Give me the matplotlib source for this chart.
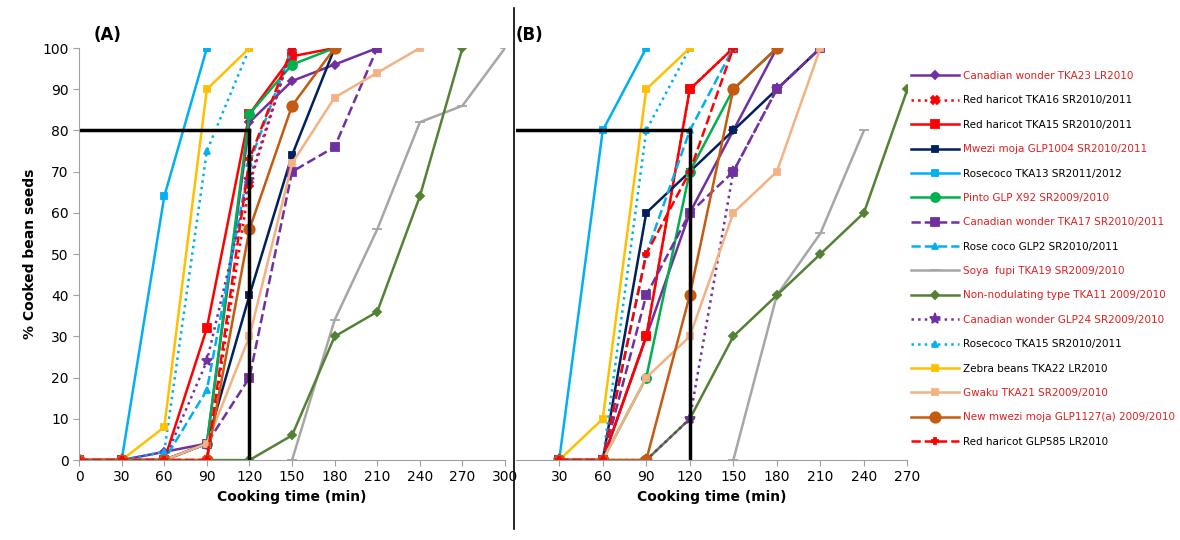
import matplotlib.pyplot as plt
from matplotlib.lines import Line2D

# legend names (in legend order)
names = ["Canadian wonder TKA23 LR2010", "Red haricot TKA16 SR2010/2011", "Red haricot TKA15 SR2010/2011",
         "Mwezi moja GLP1004 SR2010/2011", "Rosecoco TKA13 SR2011/2012", "Pinto GLP X92 SR2009/2010",
         "Canadian wonder TKA17 SR2010/2011", "Rose coco GLP2 SR2010/2011", "Soya  fupi TKA19 SR2009/2010",
         "Non-nodulating type TKA11 2009/2010", "Canadian wonder GLP24 SR2009/2010", "Rosecoco TKA15 SR2010/2011",
         "Zebra beans TKA22 LR2010", "Gwaku TKA21 SR2009/2010", "New mwezi moja GLP1127(a) 2009/2010",
         "Red haricot GLP585 LR2010"]
text_red = [True, False, False, True, False, True, True, False, True, True, True, False, False, True, True, False]

# panel A: cooking time and % cooked
tA = [0, 30, 60, 90, 120, 150, 180, 210, 240, 270, 300]
a_tka23 = [0, 0, 2, 4, 82, 92, 96, 100]
a_tka16 = [0, 0, 0, 0, 67, 100]
a_tka15 = [0, 0, 0, 32, 84, 98, 100]
a_glp1004 = [0, 0, 0, 4, 40, 74, 100]
a_tka13 = [0, 0, 64, 100]
a_pinto = [0, 0, 0, 4, 84, 96, 100]
a_tka17 = [0, 0, 0, 4, 20, 70, 76, 100]
a_glp2 = [0, 0, 0, 17, 72, 100]
a_soya = [0, 34, 56, 82, 86, 100]          # from 150
a_nonnod = [0, 0, 0, 0, 0, 6, 30, 36, 64, 100]
a_glp24 = [0, 0, 0, 24, 68, 100]
a_rc15 = [0, 0, 2, 75, 100]
a_zebra = [0, 0, 8, 90, 100]
a_gwaku = [0, 0, 0, 4, 30, 72, 88, 94, 100]
a_newmm = [0, 0, 0, 0, 56, 86, 100]
a_glp585 = [0, 0, 0, 0, 73, 100]

# panel B
tB = [30, 60, 90, 120, 150, 180, 210, 240, 270]
b_tka23 = [0, 0, 30, 60, 80, 100]
b_tka16 = [0, 0, 30, 90, 100]
b_tka15 = [0, 0, 30, 90, 100]
b_glp1004 = [0, 0, 60, 70, 80, 90, 100]
b_tka13 = [0, 80, 100]
b_pinto = [0, 0, 20, 70, 90, 100]
b_tka17 = [0, 0, 40, 60, 70, 90, 100]
b_glp2 = [0, 0, 50, 80, 100]
b_soya = [0, 40, 55, 80]                   # from 150
b_nonnod = [0, 0, 0, 10, 30, 40, 50, 60, 90]
b_glp24 = [0, 0, 0, 10, 70, 90, 100]
b_rc15 = [0, 0, 80, 100]
b_zebra = [0, 10, 90, 100]
b_gwaku = [0, 0, 20, 30, 60, 70, 100]
b_newmm = [0, 0, 0, 40, 90, 100]
b_glp585 = [0, 0, 50, 70, 100]

colors = ["#7030A0", "#FF0000", "#FF0000", "#002060", "#00B0F0", "#00B050", "#7030A0", "#00B0F0",
          "#A6A6A6", "#548235", "#7030A0", "#00B0F0", "#FFC000", "#F4B183", "#C55A11", "#FF0000"]
styles = ["-", ":", "-", "-", "-", "-", "--", "--", "-", "-", ":", ":", "-", "-", "-", "--"]
markers = ["D", "X", "s", "s", "s", "o", "s", "^", "_", "D", "*", "^", "s", "s", "o", "P"]
msizes = [4.5, 6, 6, 4.5, 4.5, 6.5, 5.5, 4.5, 7, 4.5, 8, 4.5, 4.5, 4.5, 7.5, 5]

seriesA = [a_tka23, a_tka16, a_tka15, a_glp1004, a_tka13, a_pinto, a_tka17, a_glp2, a_soya, a_nonnod,
           a_glp24, a_rc15, a_zebra, a_gwaku, a_newmm, a_glp585]
seriesB = [b_tka23, b_tka16, b_tka15, b_glp1004, b_tka13, b_pinto, b_tka17, b_glp2, b_soya, b_nonnod,
           b_glp24, b_rc15, b_zebra, b_gwaku, b_newmm, b_glp585]
startA = [0] * 16
startA[8] = 5
startB = [0] * 16
startB[8] = 4

fig = plt.figure(figsize=(11.8, 5.4), dpi=100)
axA = fig.add_axes([0.067, 0.148, 0.361, 0.763])
axB = fig.add_axes([0.437, 0.148, 0.332, 0.763])

def draw(ax, t, series, start):
    for i, s in enumerate(series):
        x = t[start[i]:start[i] + len(s)]
        ax.plot(x, s, color=colors[i], ls=styles[i], lw=1.8, marker=markers[i],
                ms=msizes[i], mew=1.3, label=names[i])
    ax.plot([0, 120], [80, 80], color="black", lw=2.5)
    ax.plot([120, 120], [0, 80], color="black", lw=2.5)
    ax.set_ylim(0, 100)
    for sp in ["top", "right"]:
        ax.spines[sp].set_visible(False)
    ax.spines["bottom"].set_color("#A0A0A0")
    ax.spines["left"].set_color("#A0A0A0")
    ax.tick_params(colors="black", labelsize=10, length=4)
    ax.tick_params(axis="both", color="#A0A0A0")
    ax.set_xlabel("Cooking time (min)", fontsize=10, fontweight="bold")

draw(axA, tA, seriesA, startA)
axA.set_xlim(0, 300)
axA.set_xticks(range(0, 301, 30))
axA.set_yticks(range(0, 101, 10))
axA.set_ylabel("% Cooked bean seeds", fontsize=10, fontweight="bold")
axA.text(0.035, 1.02, "(A)", transform=axA.transAxes, fontsize=12, fontweight="bold")

draw(axB, tB, seriesB, startB)
axB.set_xlim(0, 270)
axB.set_xticks(range(30, 271, 30))
axB.set_yticks([])
axB.spines["left"].set_visible(False)
axB.text(0.0, 1.02, "(B)", transform=axB.transAxes, fontsize=12, fontweight="bold")

# divider line between the panels
fig.add_artist(Line2D([0.436, 0.436], [0.02, 0.985], color="black", lw=1.2))

handles, labels = axA.get_legend_handles_labels()
leg = fig.legend(handles, labels, loc="upper left", bbox_to_anchor=(0.768, 0.878), frameon=False,
                 fontsize=7.5, handlelength=4.6, labelspacing=1.38, borderpad=0, handletextpad=0.35)
for txt, red in zip(leg.get_texts(), text_red):
    txt.set_color("#E02020" if red else "black")

fig.savefig("out.png", dpi=100)
